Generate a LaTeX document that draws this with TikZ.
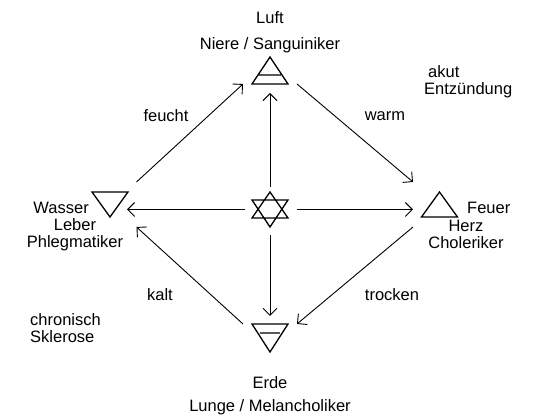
\documentclass[tikz,border=0pt]{standalone}
\usepackage{fontspec}
\setmainfont{Liberation Sans}
\usetikzlibrary{arrows.meta}

\begin{document}
\begin{tikzpicture}[x=1pt,y=1pt,
  every node/.style={font=\fontsize{16.5}{17}\selectfont,inner sep=1pt},
  el/.style={minimum width=36pt,inner sep=0pt,outer xsep=8.5pt,outer ysep=10pt},
  tb/.style={el,outer xsep=9pt,outer ysep=0pt},
  sym/.style={line width=1.3pt,line join=miter},
  pfeil/.style={line width=0.9pt,-{Straight Barb[length=7pt,width=14pt]}}]
\useasboundingbox (-270,-207.5) rectangle (263,209.5);

\node[tb,minimum height=27pt] (L) at (0,139) {};
\node[tb,minimum height=28pt] (E) at (0,-128.5) {};
\node[el,minimum height=25pt] (W) at (-160,5) {};
\node[el,minimum height=25pt] (F) at (169.5,5) {};
\node[minimum width=36pt,minimum height=35pt,inner sep=0pt] (S) at (0,0) {};

\draw[sym] (L) ++(-18,-13.5) -- ++(18,27) -- ++(18,-27) -- cycle
  (L) ++(-11,-4.5) -- ++(22,0);
\draw[sym] (E) ++(-18,14) -- ++(18,-28) -- ++(18,28) -- cycle
  (E) ++(-10,5) -- ++(20,0);
\draw[sym] (W) ++(-18,12.5) -- ++(18,-25) -- ++(18,25) -- cycle;
\draw[sym] (F) ++(-18,-12.5) -- ++(18,25) -- ++(18,-25) -- cycle;
\draw[sym] (S) ++(-18,-8.5) -- ++(18,26) -- ++(18,-26) -- cycle
  (S) ++(-18,9.5) -- ++(18,-27) -- ++(18,27) -- cycle;

\draw[pfeil] (W.north east) -- (L.south west);
\draw[pfeil] (L.south east) -- (F.north west);
\draw[pfeil] (F.south west) -- (E.north east);
\draw[pfeil] (E.north west) -- (W.south east);

\draw[pfeil,shorten <=5pt,shorten >=9pt] (S.north) -- (L.south);
\draw[pfeil,shorten <=8pt,shorten >=8pt] (S.south) -- (E.north);
\draw[pfeil,shorten <=7pt,shorten >=17pt] (S.west) -- (S -| W);
\draw[pfeil,shorten <=9pt,shorten >=26.5pt] (S.east) -- (S -| F);

\node (l1) at (0,191.5) {Luft};
\node (l2) at (0,164.5) {Niere / Sanguiniker};
\node[align=left,anchor=west] (l3) at (153,128) {\hspace*{4pt}akut\\Entzündung};
\node (l4) at (-104,93.5) {feucht};
\node (l5) at (115,93.5) {warm};
\node[anchor=east] (l6) at (-180,1.5) {Wasser};
\node[align=center] (l7) at (-195,-25) {Leber\\Phlegmatiker};
\node[anchor=west] (l8) at (196,1.5) {Feuer};
\node[align=center] (l9) at (196,-24.5) {Herz\\Choleriker};
\node (l10) at (-110,-85.5) {kalt};
\node (l11) at (122,-85.5) {trocken};
\node[align=left,anchor=west] (l12) at (-241,-119) {chronisch\\Sklerose};
\node (l13) at (0,-173.5) {Erde};
\node (l14) at (0,-197.5) {Lunge / Melancholiker};
\end{tikzpicture}
\end{document}
